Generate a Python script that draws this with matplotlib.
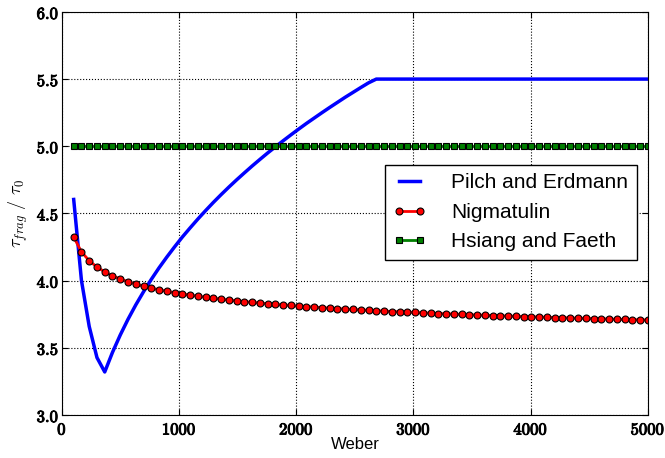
import matplotlib
matplotlib.use("Agg")
import matplotlib.pyplot as plt
import matplotlib.patheffects as pe
from matplotlib.ticker import FuncFormatter

plt.rcParams['mathtext.fontset'] = 'cm'

# Weber numbers (same sampling for all three curves)
weber = [100.0, 166.2, 232.4, 298.6, 364.9, 431.1, 497.3, 563.5, 629.7, 695.9,
         762.2, 828.4, 894.6, 960.8, 1027.0, 1093.2, 1159.5, 1225.7, 1291.9, 1358.1,
         1424.3, 1490.5, 1556.8, 1623.0, 1689.2, 1755.4, 1821.6, 1887.8, 1954.1, 2020.3,
         2086.5, 2152.7, 2218.9, 2285.1, 2351.4, 2417.6, 2483.8, 2550.0, 2616.2, 2682.4,
         2748.6, 2814.9, 2881.1, 2947.3, 3013.5, 3079.7, 3145.9, 3212.2, 3278.4, 3344.6,
         3410.8, 3477.0, 3543.2, 3609.5, 3675.7, 3741.9, 3808.1, 3874.3, 3940.5, 4006.8,
         4073.0, 4139.2, 4205.4, 4271.6, 4337.8, 4404.1, 4470.3, 4536.5, 4602.7, 4668.9,
         4735.1, 4801.4, 4867.6, 4933.8, 5000.0]

pilch = [4.604, 4.001, 3.659, 3.427, 3.320, 3.466, 3.595, 3.712, 3.819, 3.917,
         4.009, 4.095, 4.175, 4.251, 4.324, 4.392, 4.458, 4.521, 4.582, 4.640,
         4.696, 4.750, 4.802, 4.853, 4.902, 4.950, 4.996, 5.041, 5.085, 5.128,
         5.170, 5.210, 5.250, 5.289, 5.327, 5.365, 5.401, 5.437, 5.472, 5.5,
         5.5, 5.5, 5.5, 5.5, 5.5, 5.5, 5.5, 5.5, 5.5, 5.5,
         5.5, 5.5, 5.5, 5.5, 5.5, 5.5, 5.5, 5.5, 5.5, 5.5,
         5.5, 5.5, 5.5, 5.5, 5.5, 5.5, 5.5, 5.5, 5.5, 5.5,
         5.5, 5.5, 5.5, 5.5, 5.5]

nigmatulin = [4.324, 4.214, 4.148, 4.101, 4.065, 4.036, 4.012, 3.992, 3.974, 3.958,
              3.944, 3.932, 3.921, 3.910, 3.901, 3.892, 3.884, 3.876, 3.869, 3.862,
              3.856, 3.849, 3.844, 3.838, 3.833, 3.828, 3.823, 3.819, 3.815, 3.810,
              3.807, 3.803, 3.799, 3.795, 3.792, 3.788, 3.785, 3.782, 3.779, 3.776,
              3.773, 3.770, 3.768, 3.765, 3.763, 3.760, 3.758, 3.755, 3.753, 3.751,
              3.748, 3.746, 3.744, 3.742, 3.740, 3.738, 3.736, 3.734, 3.732, 3.731,
              3.729, 3.727, 3.725, 3.724, 3.722, 3.720, 3.719, 3.717, 3.716, 3.714,
              3.712, 3.711, 3.710, 3.708, 3.707]

hsiang = [5.0, 5.0, 5.0, 5.0, 5.0, 5.0, 5.0, 5.0, 5.0, 5.0,
          5.0, 5.0, 5.0, 5.0, 5.0, 5.0, 5.0, 5.0, 5.0, 5.0,
          5.0, 5.0, 5.0, 5.0, 5.0, 5.0, 5.0, 5.0, 5.0, 5.0,
          5.0, 5.0, 5.0, 5.0, 5.0, 5.0, 5.0, 5.0, 5.0, 5.0,
          5.0, 5.0, 5.0, 5.0, 5.0, 5.0, 5.0, 5.0, 5.0, 5.0,
          5.0, 5.0, 5.0, 5.0, 5.0, 5.0, 5.0, 5.0, 5.0, 5.0,
          5.0, 5.0, 5.0, 5.0, 5.0, 5.0, 5.0, 5.0, 5.0, 5.0,
          5.0, 5.0, 5.0, 5.0, 5.0]

fig = plt.figure(figsize=(6.65, 4.58), dpi=100)
ax = fig.add_axes([0.0932, 0.094, 0.881, 0.880])

ax.plot(weber, pilch, color="blue", lw=2.5, label="Pilch and Erdmann")
ax.plot(weber, nigmatulin, color="red", lw=2, marker="o", ms=5,
        mfc="red", mec="black", mew=0.8, label="Nigmatulin")
ax.plot(weber, hsiang, color="green", lw=2, marker="s", ms=4.5,
        mfc="green", mec="black", mew=0.8, label="Hsiang and Faeth")

ax.set_xlim(0, 5000)
ax.set_ylim(3.0, 6.0)
ax.set_xticks([0, 1000, 2000, 3000, 4000, 5000])
ax.set_yticks([3.0, 3.5, 4.0, 4.5, 5.0, 5.5, 6.0])
ax.xaxis.set_major_formatter(FuncFormatter(lambda v, p: r"$\mathbf{%d}$" % v))
ax.yaxis.set_major_formatter(FuncFormatter(lambda v, p: r"$\mathbf{%.1f}$" % v))
ax.tick_params(direction="in", top=True, right=True, labelsize=12, length=4)
ax.tick_params(axis="y", pad=2)
ax.tick_params(axis="x", pad=4)
for lbl in ax.get_xticklabels() + ax.get_yticklabels():
    lbl.set_path_effects([pe.withStroke(linewidth=0.7, foreground="black")])
ax.grid(True, color="black", linestyle=":", linewidth=0.8)

ax.set_xlabel("Weber", fontsize=12, family="Liberation Sans", labelpad=-1)
ax.set_ylabel(r"$\tau_{frag}\ /\ \tau_0$", fontsize=13, labelpad=5)

leg = ax.legend(loc="upper left", bbox_to_anchor=(0.551, 0.620), borderaxespad=0,
                prop={"family": "Liberation Sans", "size": 15},
                handlelength=1.6, handletextpad=1.2, numpoints=2,
                fancybox=False, framealpha=1)
leg.get_frame().set_edgecolor("black")

plt.savefig("out.png", dpi=100)
